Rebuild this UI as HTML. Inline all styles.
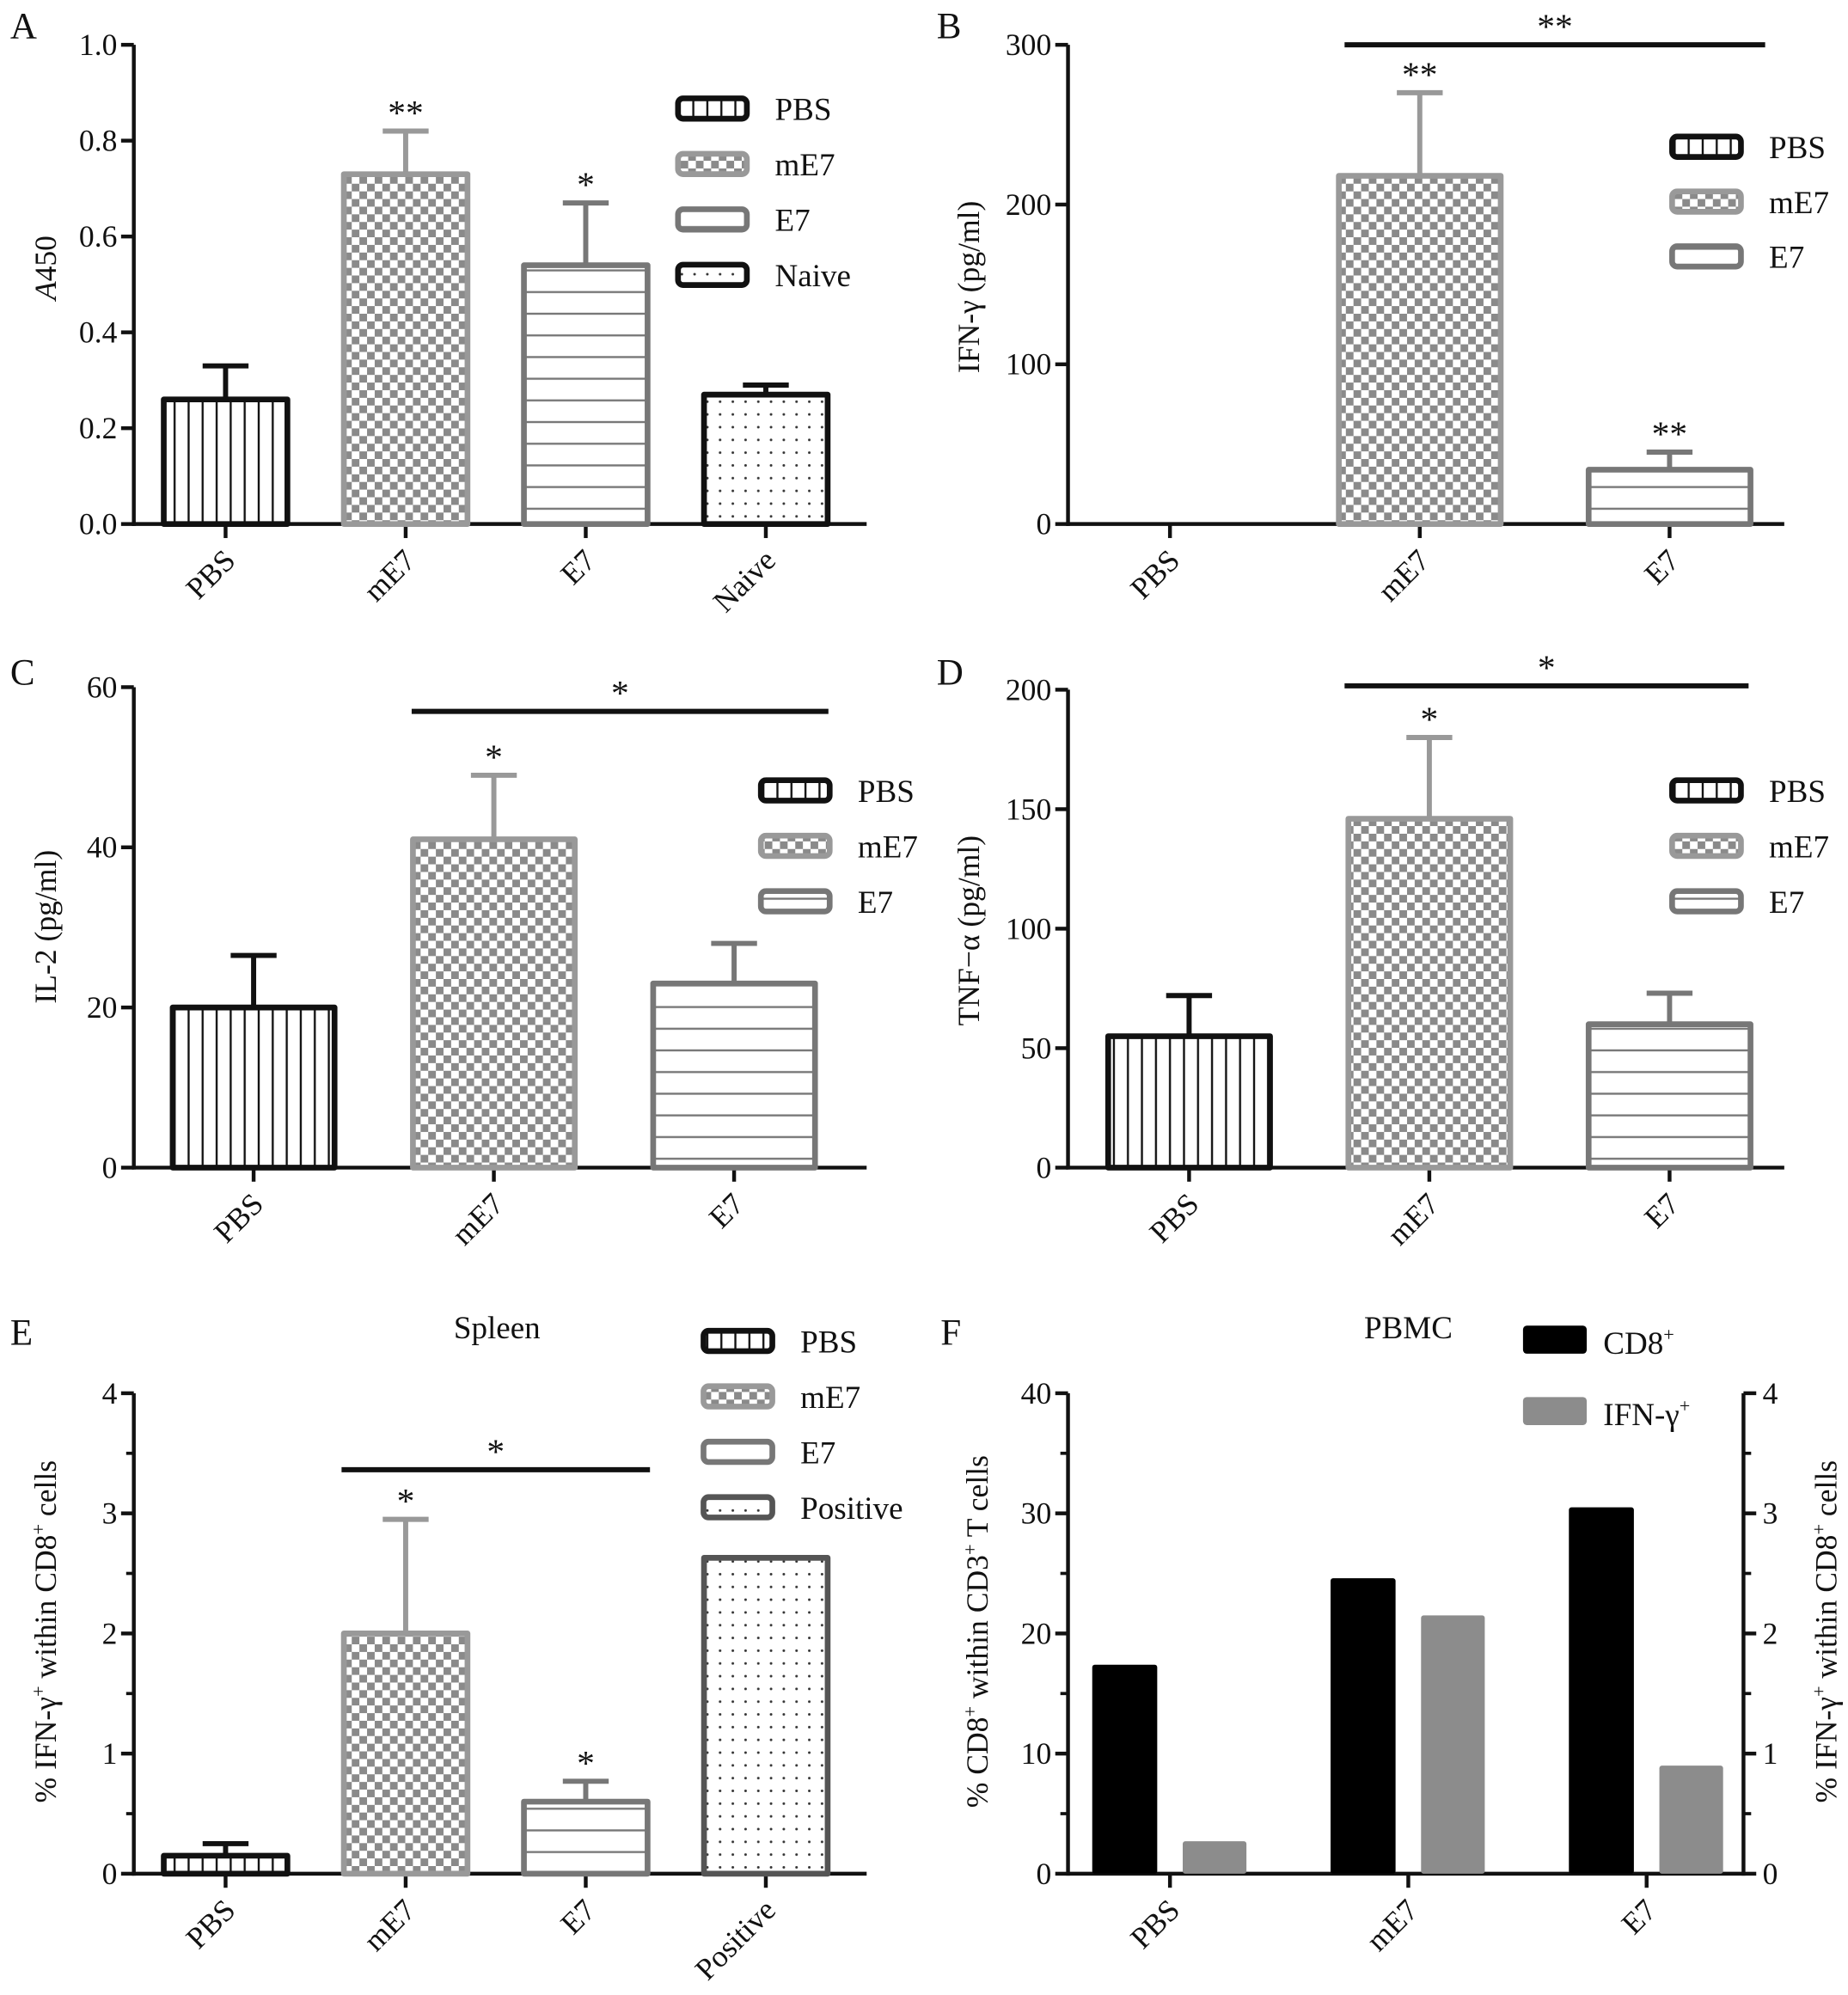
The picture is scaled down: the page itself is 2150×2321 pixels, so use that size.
<!DOCTYPE html>
<html><head><meta charset="utf-8">
<style>
html,body{margin:0;padding:0;background:#fff;}
svg{display:block;font-family:"Liberation Serif","Times New Roman",serif;}
svg text{font-family:"Liberation Serif","Times New Roman",serif;fill:#111;}
</style></head>
<body>
<svg id="fig" width="2150" height="2321" viewBox="0 0 1450 1565" font-family="Liberation Serif, serif" xmlns="http://www.w3.org/2000/svg">
<defs>
<pattern id="pVert" width="11" height="10" patternUnits="userSpaceOnUse"><rect width="11" height="10" fill="#fff"/><line x1="5" y1="0" x2="5" y2="10" stroke="#111" stroke-width="1.6"/></pattern>
<pattern id="pCheck" width="12" height="12" patternUnits="userSpaceOnUse"><rect width="12" height="12" fill="#fff"/><rect width="6" height="6" fill="#8a8a8a"/><rect x="6" y="6" width="6" height="6" fill="#8a8a8a"/></pattern>
<pattern id="pHoriz" width="10" height="17" patternUnits="userSpaceOnUse"><rect width="10" height="17" fill="#fff"/><line x1="0" y1="8" x2="10" y2="8" stroke="#777" stroke-width="1.6"/></pattern>
<pattern id="pDot" width="10" height="10" patternUnits="userSpaceOnUse"><rect width="10" height="10" fill="#fff"/><circle cx="5" cy="5" r="1" fill="#333"/></pattern>
</defs>
</svg>
<script>
// ---- data ----
const catsA = ["PBS","mE7","E7","Naive"];
const valsA = [0.26,0.73,0.54,0.27];
const errA = [0.07,0.09,0.13,0.02];
const ticksA = ["0.0","0.2","0.4","0.6","0.8","1.0"];

const catsB = ["PBS","mE7","E7"];
const valsB = [0,218,34];
const errB = [0,52,11];
const ticksB = ["0","100","200","300"];

const catsC = ["PBS","mE7","E7"];
const valsC = [20,41,23];
const errC = [6.5,8,5];
const ticksC = ["0","20","40","60"];

const catsD = ["PBS","mE7","E7"];
const valsD = [55,146,60];
const errD = [17,34,13];
const ticksD = ["0","50","100","150","200"];

const catsE = ["PBS","mE7","E7","Positive"];
const valsE = [0.15,2.0,0.6,2.63];
const errE = [0.1,0.95,0.17,0];
const ticksE = ["0","1","2","3","4"];

const catsF = ["PBS","mE7","E7"];
const valsFcd8 = [17.4,24.6,30.5];
const valsFifn = [0.27,2.15,0.9];
const ticksFL = ["0","10","20","30","40"];
const ticksFR = ["0","1","2","3","4"];

const NS="http://www.w3.org/2000/svg";
const svg=document.getElementById('fig');
const FF='Liberation Serif, Times New Roman, serif';
function el(tag,attrs,parent,txt){const e=document.createElementNS(NS,tag);for(const k in attrs)e.setAttribute(k,attrs[k]);if(tag==='text')e.setAttribute('font-family',FF);if(txt!==undefined)e.textContent=txt;(parent||svg).appendChild(e);return e;}

const styles={PBS:{fill:"url(#pVert)",stroke:"#111"},mE7:{fill:"url(#pCheck)",stroke:"#999"},E7:{fill:"url(#pHoriz)",stroke:"#777"},Naive:{fill:"url(#pDot)",stroke:"#111"},Positive:{fill:"url(#pDot)",stroke:"#555"}};

function panel(o){
  const g=el('g',{});
  
  
  const ymap=v=>o.bottom-(v-o.min)/(o.max-o.min)*(o.bottom-o.top);
  const L=el('text',{x:o.lx,y:o.ly,'font-size':29},g,o.id);
  
  const ya=el('line',{x1:o.ax,y1:o.top,x2:o.ax,y2:o.bottom+1.5,stroke:'#111','stroke-width':3},g);
  
  const xa=el('line',{x1:o.ax-1.5,y1:o.bottom,x2:o.xend,y2:o.bottom,stroke:'#111','stroke-width':3},g);
  
  const n=o.ticks.length;
  for(let i=0;i<n;i++){
    const v=o.min+(o.max-o.min)*i/(n-1);const y=ymap(v);
    el('line',{x1:o.ax-10,y1:y,x2:o.ax,y2:y,stroke:'#111','stroke-width':3},g);
    const t=el('text',{x:o.ax-13,y:y+8,'font-size':24,'text-anchor':'end'},g,o.ticks[i]);
    
    if(o.minor&&i<n-1){const ym=ymap(v+(o.max-o.min)/(n-1)/2);el('line',{x1:o.ax-6,y1:ym,x2:o.ax,y2:ym,stroke:'#111','stroke-width':2.5},g);}
  }
  const yt=el('text',{x:0,y:0,'font-size':24,'text-anchor':'middle',transform:`translate(${o.ytx},${o.tyc}) rotate(-90)`},g);
  yt.innerHTML=o.ytitle;
  
  o.cats.forEach((c,i)=>{
    const cx=o.x0+i*o.step;const st=styles[c];
    el('line',{x1:cx,y1:o.bottom,x2:cx,y2:o.bottom+11,stroke:'#111','stroke-width':3},g);
    const xl=el('text',{x:0,y:0,'font-size':24,'text-anchor':'end',transform:`translate(${cx+9},${o.bottom+30}) rotate(-45)`},g,c);
    
    const v=o.vals[i];
    if(v>0){
      const yv=ymap(v);
      if(o.errs[i]>0){
        const ye=ymap(v+o.errs[i]);
        el('line',{x1:cx,y1:yv,x2:cx,y2:ye,stroke:st.stroke,'stroke-width':4},g);
        el('line',{x1:cx-18,y1:ye,x2:cx+18,y2:ye,stroke:st.stroke,'stroke-width':4},g);
      }
      const r=el('rect',{x:cx-o.bw/2,y:yv,width:o.bw,height:o.bottom-yv,fill:st.fill,stroke:st.stroke,'stroke-width':4.5,'stroke-linejoin':'round'},g);
      
      if(o.stars&&o.stars[i]){const s=el('text',{x:cx,y:ymap(v+o.errs[i])-5,'font-size':28,'text-anchor':'middle'},g,o.stars[i]);
        }
    }
  });
  if(o.sig){
    const sl=el('line',{x1:o.sig[0],y1:o.sig[2],x2:o.sig[1],y2:o.sig[2],stroke:'#111','stroke-width':4},g);
    
    el('text',{x:(o.sig[0]+o.sig[1])/2,y:o.sig[2]-5,'font-size':28,'text-anchor':'middle'},g,o.sig[3]);
  }
  if(o.title){const tt=el('text',{x:o.title[1],y:o.title[2],'font-size':25,'text-anchor':'middle'},g,o.title[0]);
    }
  o.legend.forEach((c,i)=>{
    const st=styles[c];const y=o.leg[1]+i*o.leg[2];
    const lg=el('g',{},g);
    el('rect',{x:o.leg[0],y:y-8,width:54,height:16,rx:4,fill:st.fill,stroke:st.stroke,'stroke-width':4.5},lg);
    el('text',{x:o.leg[0]+76,y:y+9,'font-size':25},lg,c);
  });
}

panel({id:'A',lx:8,ly:30,ax:105,top:35,bottom:411,xend:680,min:0,max:1,ticks:ticksA,cats:catsA,vals:valsA,errs:errA,x0:177,step:141.3,bw:97,
  ytx:44,tyc:210,ytitle:'<tspan font-style="italic">A</tspan>450',stars:['','**','*',''],legend:catsA,leg:[532,85,43.5]});
panel({id:'B',lx:735,ly:30,ax:838,top:35,bottom:411,xend:1400,min:0,max:300,ticks:ticksB,cats:catsB,vals:valsB,errs:errB,x0:918,step:196,bw:127,
  ytx:768,tyc:225,ytitle:'IFN-γ (pg/ml)',stars:['','**','**'],sig:[1055,1385,35,'**'],legend:catsB,leg:[1312,115,43]});
panel({id:'C',lx:8,ly:537,ax:105,top:539,bottom:916,xend:680,min:0,max:60,ticks:ticksC,cats:catsC,vals:valsC,errs:errC,x0:199,step:188.5,bw:127,
  ytx:44,tyc:727,ytitle:'IL-2 (pg/ml)',stars:['','*',''],sig:[323,650,558,'*'],legend:catsC,leg:[597,620,43.5]});
panel({id:'D',lx:735,ly:537,ax:838,top:541,bottom:916,xend:1400,min:0,max:200,ticks:ticksD,cats:catsD,vals:valsD,errs:errD,x0:933,step:188.5,bw:127,
  ytx:768,tyc:730,ytitle:'TNF−α (pg/ml)',stars:['','*',''],sig:[1055,1372,538,'*'],legend:catsD,leg:[1312,620,43.5]});
panel({id:'E',lx:8,ly:1055,ax:105,top:1093,bottom:1470,xend:680,min:0,max:4,ticks:ticksE,cats:catsE,vals:valsE,errs:errE,x0:177,step:141.3,bw:97,minor:true,
  ytx:44,tyc:1280,ytitle:'% IFN-γ<tspan font-size="15" dy="-9">+</tspan><tspan dy="9"> within CD8</tspan><tspan font-size="15" dy="-9">+</tspan><tspan dy="9"> cells</tspan>',
  stars:['','*','*',''],sig:[268,510,1153,'*'],title:['Spleen',390,1050],legend:catsE,leg:[552,1052,43.5]});

(function(){
  const g=el('g',{});
  const ax=838,rx=1368,top=1093,bottom=1470;
  const yL=v=>bottom-v/40*(bottom-top), yR=v=>bottom-v/4*(bottom-top);
  el('text',{x:738,y:1055,'font-size':29},g,'F');
  const t=el('text',{x:1105,y:1050,'font-size':25,'text-anchor':'middle'},g,'PBMC');
  
  const a1=el('line',{x1:ax,y1:top,x2:ax,y2:bottom+1.5,stroke:'#111','stroke-width':3},g);
  
  const a2=el('line',{x1:rx,y1:top,x2:rx,y2:bottom+1.5,stroke:'#111','stroke-width':3},g);
  
  const a3=el('line',{x1:ax,y1:bottom,x2:rx,y2:bottom,stroke:'#111','stroke-width':3},g);
  
  ticksFL.forEach((s,i)=>{const y=yL(i*10);
    el('line',{x1:ax-10,y1:y,x2:ax,y2:y,stroke:'#111','stroke-width':3},g);
    el('text',{x:ax-13,y:y+8,'font-size':24,'text-anchor':'end'},g,s);
    if(i<4){const ym=yL(i*10+5);el('line',{x1:ax-6,y1:ym,x2:ax,y2:ym,stroke:'#111','stroke-width':2.5},g);}
  });
  ticksFR.forEach((s,i)=>{const y=yR(i);
    el('line',{x1:rx,y1:y,x2:rx+10,y2:y,stroke:'#111','stroke-width':3},g);
    el('text',{x:rx+15,y:y+8,'font-size':24},g,s);
    if(i<4){const ym=yR(i+0.5);el('line',{x1:rx,y1:ym,x2:rx+6,y2:ym,stroke:'#111','stroke-width':2.5},g);}
  });
  const lt=el('text',{x:0,y:0,'font-size':24,'text-anchor':'middle',transform:'translate(775,1280) rotate(-90)'},g);
  lt.innerHTML='% CD8<tspan font-size="15" dy="-9">+</tspan><tspan dy="9"> within CD3</tspan><tspan font-size="15" dy="-9">+</tspan><tspan dy="9"> T cells</tspan>';
  
  const rt=el('text',{x:0,y:0,'font-size':24,'text-anchor':'middle',transform:'translate(1441,1280) rotate(-90)'},g);
  rt.innerHTML='% IFN-γ<tspan font-size="15" dy="-9">+</tspan><tspan dy="9"> within CD8</tspan><tspan font-size="15" dy="-9">+</tspan><tspan dy="9"> cells</tspan>';
  
  catsF.forEach((c,i)=>{
    const cx=918+i*187;
    el('line',{x1:cx,y1:bottom,x2:cx,y2:bottom+11,stroke:'#111','stroke-width':3},g);
    const xl=el('text',{x:0,y:0,'font-size':24,'text-anchor':'end',transform:`translate(${cx+9},${bottom+30}) rotate(-45)`},g,c);
    
    const b1=el('rect',{x:cx-61,y:yL(valsFcd8[i]),width:51,height:bottom-yL(valsFcd8[i]),rx:2,fill:'#000'},g);
    
    const b2=el('rect',{x:cx+10,y:yR(valsFifn[i]),width:50,height:bottom-yR(valsFifn[i]),rx:2,fill:'#8c8c8c'},g);
    
  });
  const l1=el('g',{},g);
  el('rect',{x:1195,y:1040,width:50,height:22,rx:3,fill:'#000'},l1);
  const tx1=el('text',{x:1258,y:1062,'font-size':25},l1);tx1.innerHTML='CD8<tspan font-size="15" dy="-10">+</tspan>';
  const l2=el('g',{},g);
  el('rect',{x:1195,y:1096,width:50,height:22,rx:3,fill:'#8c8c8c'},l2);
  const tx2=el('text',{x:1258,y:1118,'font-size':25},l2);tx2.innerHTML='IFN-γ<tspan font-size="15" dy="-10">+</tspan>';
})();
</script>
</body></html>
